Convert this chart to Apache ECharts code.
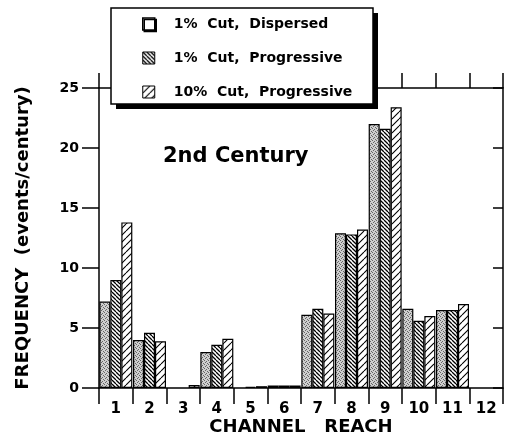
<!DOCTYPE html>
<html>
<head>
<meta charset="utf-8">
<script src="https://cdn.jsdelivr.net/npm/echarts/dist/echarts.min.js"></script>
<style>
  html, body { margin: 0; padding: 0; background: #fff; }
  #chart { width: 522px; height: 437px; }
</style>
</head>
<body>
<div id="chart"></div>
<script>
// ---- data ----
var categories = ['1', '2', '3', '4', '5', '6', '7', '8', '9', '10', '11', '12'];
var seriesNames = ['1%  Cut,  Dispersed', '1%  Cut,  Progressive', '10%  Cut,  Progressive'];
var dispersed1 = [7.2, 4.0, null, 3.0, null, 0.2, 6.1, 12.9, 22.0, 6.6, 6.5, null];
var progressive1 = [9.0, 4.6, null, 3.6, 0.1, 0.2, 6.6, 12.8, 21.6, 5.6, 6.5, null];
var progressive10 = [13.8, 3.9, 0.25, 4.1, 0.15, 0.2, 6.2, 13.2, 23.4, 6.0, 7.0, null];
var yTicks = [0, 5, 10, 15, 20, 25];
var chartTitle = '2nd Century';
var xName = 'CHANNEL   REACH';
var yName = 'FREQUENCY  (events/century)';

// ---- fill patterns ----
function makeStipple() {
  var c = document.createElement('canvas');
  c.width = 4; c.height = 4;
  var g = c.getContext('2d');
  g.fillStyle = '#cfcfcf';
  g.fillRect(0, 0, 4, 4);
  g.fillStyle = '#666';
  [[0, 0], [2, 1], [1, 2], [3, 3]].forEach(function (p) { g.fillRect(p[0], p[1], 1, 1); });
  return { image: c, repeat: 'repeat' };
}
function makeHatch(n, lw, back) {
  var c = document.createElement('canvas');
  c.width = n; c.height = n;
  var g = c.getContext('2d');
  g.fillStyle = '#fff';
  g.fillRect(0, 0, n, n);
  g.strokeStyle = '#000';
  g.lineWidth = lw;
  g.beginPath();
  [-n, 0, n].forEach(function (k) {
    if (back) { g.moveTo(k, 0); g.lineTo(k + n, n); }
    else { g.moveTo(k, n); g.lineTo(k + n, 0); }
  });
  g.stroke();
  return { image: c, repeat: 'repeat' };
}

var FONT = 'DejaVu Sans';
var chart = echarts.init(document.getElementById('chart'), null, { renderer: 'canvas' });

var barCommon = {
  type: 'bar',
  barGap: '0%',
  barCategoryGap: '2%',
  xAxisIndex: 0,
  yAxisIndex: 0
};

var option = {
  animation: false,
  backgroundColor: '#fff',
  title: {
    text: chartTitle,
    left: 163,
    top: 146,
    padding: 0,
    textStyle: { fontFamily: FONT, fontWeight: 'bold', fontSize: 21, color: '#000' }
  },
  graphic: [{
    type: 'rect',
    z: 10,
    shape: { x: 116, y: 13, width: 262, height: 96 },
    style: { fill: '#000' }
  }, {
    type: 'rect',
    z: 11,
    shape: { x: 111, y: 8, width: 262, height: 96 },
    style: { fill: '#fff', stroke: '#000', lineWidth: 1.5 }
  }],
  legend: {
    z: 20,
    orient: 'vertical',
    left: 142,
    top: 17,
    padding: 0,
    itemWidth: 12,
    itemHeight: 12,
    itemGap: 20,
    icon: 'rect',
    itemStyle: { borderColor: '#000', borderWidth: 1 },
    textStyle: { fontFamily: FONT, fontWeight: 'bold', fontSize: 14, color: '#000', padding: [0, 0, 0, 14] },
    data: [
      { name: seriesNames[0], itemStyle: { color: '#fff', borderColor: '#000', borderWidth: 1.5, shadowColor: '#000', shadowBlur: 0, shadowOffsetX: 1.5, shadowOffsetY: 1.5 } },
      { name: seriesNames[1] },
      { name: seriesNames[2] }
    ]
  },
  grid: {
    left: 99, right: 19, top: 88, bottom: 49,
    containLabel: false,
    outerBoundsMode: 'none'
  },
  xAxis: [{
    type: 'category',
    data: categories,
    position: 'bottom',
    axisLine: { show: true, onZero: false, lineStyle: { color: '#000', width: 1.5 } },
    axisTick: { show: true, length: 16, interval: 0, alignWithLabel: false, lineStyle: { color: '#000', width: 1.5 } },
    axisLabel: { interval: 0, margin: 14, fontFamily: FONT, fontWeight: 'bold', fontSize: 15, color: '#000' },
    splitLine: { show: false },
    name: xName,
    nameLocation: 'middle',
    nameGap: 30,
    nameMoveOverlap: false,
    nameTextStyle: { fontFamily: FONT, fontWeight: 'bold', fontSize: 18, color: '#000' }
  }, {
    type: 'category',
    data: categories,
    position: 'top',
    axisLine: { show: true, onZero: false, lineStyle: { color: '#000', width: 1.5 } },
    axisTick: { show: true, length: 15, interval: 0, alignWithLabel: false, lineStyle: { color: '#000', width: 1.5 } },
    axisLabel: { show: false },
    splitLine: { show: false }
  }],
  yAxis: [{
    type: 'value',
    position: 'left',
    min: yTicks[0],
    max: yTicks[yTicks.length - 1],
    interval: yTicks[1] - yTicks[0],
    axisLine: { show: true, onZero: false, lineStyle: { color: '#000', width: 1.5 } },
    axisTick: { show: true, length: 17, lineStyle: { color: '#000', width: 1.5 } },
    axisLabel: { margin: 20, fontFamily: FONT, fontWeight: 'bold', fontSize: 14, color: '#000' },
    splitLine: { show: false },
    name: yName,
    nameLocation: 'middle',
    nameGap: 67,
    nameMoveOverlap: false,
    nameTextStyle: { fontFamily: FONT, fontWeight: 'bold', fontSize: 18, color: '#000' }
  }, {
    type: 'value',
    position: 'right',
    min: yTicks[0],
    max: yTicks[yTicks.length - 1],
    interval: yTicks[1] - yTicks[0],
    axisLine: { show: true, onZero: false, lineStyle: { color: '#000', width: 1.5 } },
    axisTick: { show: true, inside: true, length: 10, lineStyle: { color: '#000', width: 1.5 } },
    axisLabel: { show: false },
    splitLine: { show: false }
  }],
  series: [
    Object.assign({}, barCommon, {
      name: seriesNames[0], data: dispersed1,
      itemStyle: { color: makeStipple(), borderColor: '#000', borderWidth: 1.2 }
    }),
    Object.assign({}, barCommon, {
      name: seriesNames[1], data: progressive1,
      itemStyle: { color: makeHatch(4, 1.3, true), borderColor: '#000', borderWidth: 1.2 }
    }),
    Object.assign({}, barCommon, {
      name: seriesNames[2], data: progressive10,
      itemStyle: { color: makeHatch(7, 1.1, false), borderColor: '#000', borderWidth: 1.2 }
    })
  ]
};
chart.setOption(option);
</script>
</body>
</html>
